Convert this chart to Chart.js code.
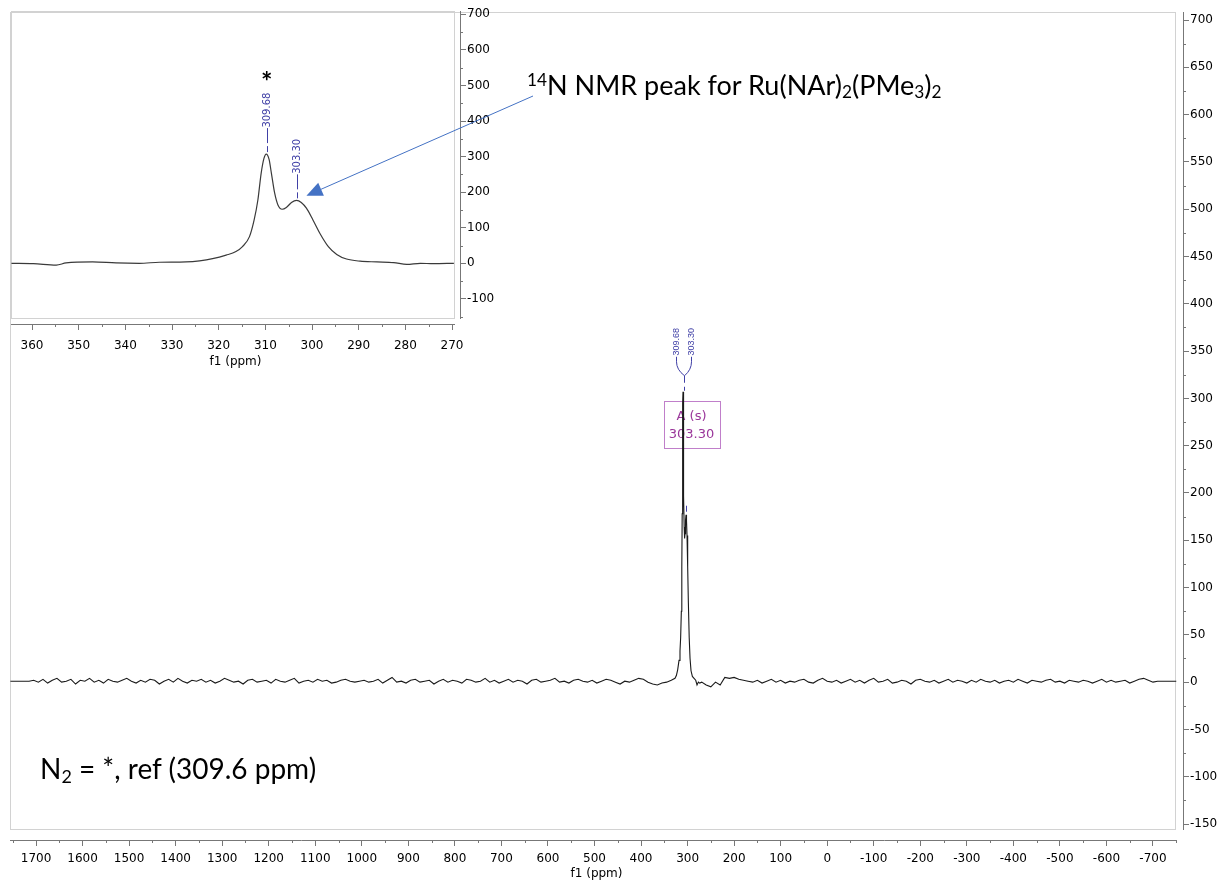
<!DOCTYPE html>
<html>
<head>
<meta charset="utf-8">
<script src="https://cdn.jsdelivr.net/npm/chart.js@4.4.0/dist/chart.umd.min.js"></script>
<style>
  html, body { margin: 0; padding: 0; background: #fff; }
  #wrap { position: relative; width: 1221px; height: 884px; overflow: hidden; }
  canvas { position: absolute; left: 0; top: 0; }
  .note { position: absolute; font-family: Lato, 'Open Sans', sans-serif; font-size: 27px; line-height: 30px; color: #000; white-space: nowrap; }
  .note sub, .note sup { font-size: 0.64em; line-height: 0; }
  .note sub { vertical-align: -0.2em; }
  .note sup { vertical-align: 0.5em; }
</style>
</head>
<body>
<div id="wrap">
  <canvas id="mainSpectrum" width="1221" height="884"></canvas>
  <canvas id="insetSpectrum" width="560" height="370"></canvas>
  <div class="note" style="left:527px; top:70px;"><sup>14</sup>N NMR peak for Ru(NAr)<sub>2</sub>(PMe<sub>3</sub>)<sub>2</sub></div>
  <div class="note" style="left:40px; top:753px; font-size:28px;">N<sub>2</sub> = *, ref (309.6 ppm)</div>
  <div class="note" style="left:261px; top:66px; font-weight:bold;">*</div>
</div>
<script>
// 14N spectrum around the two nitrogen signals (ppm, intensity)
const tracePpm = [364.4, 359.7, 354.8, 352.7, 347.0, 342.0, 337.0, 332.7, 327.0, 324.1,
                  321.3, 318.4, 316.3, 314.9, 313.4, 312.4, 311.6, 310.9, 310.3, 309.8,
                  309.2, 308.7, 308.0, 307.3, 306.4, 305.5, 304.4, 303.3, 302.3, 301.2,
                  299.8, 298.3, 296.5, 294.7, 292.6, 289.7, 286.1, 282.5, 279.7, 276.8,
                  274.0, 269.6];
const traceVal = [0, -1, -5, 1, 4, 1, 0, 3, 4, 7,
                  13, 23, 33, 47, 75, 122, 178, 253, 295, 307,
                  292, 253, 197, 164, 152, 157, 171, 177, 171, 155,
                  122, 84, 47, 25, 12, 6, 4, 2, -3, 0,
                  -1, 0];

// baseline of the full sweep, 10 ppm apart
const leftStart = 1755;
const leftBaseline = [
  1, 1, 1, 1, 1, 2, 0, 3, -1, 2,
  4, 0, 1, 3, -2, 2, 1, 4, 0, 2,
  -1, 3, 1, 0, 2, 4, 1, -1, 2, 0,
  3, 2, -2, 1, 3, 0, 4, 1, -1, 2,
  1, 3, 0, 2, -1, 1, 4, 2, 0, 1,
  -2, 2, 3, 0, 1, 2, -1, 3, 1, 0,
  2, 4, -1, 1, 2, 0, 3, 1, 2, -1,
  0, 2, 3, 1, 0, 1, 2, 0, 1, 3,
  -1, 2, 5, 0, 1, -1, 2, 3, 0, 1,
  2, -2, 1, 3, 0, 2, 1, -1, 3, 2,
  0, 1, 4, 0, 2, -1, 1, 3, 0, 2,
  1, -2, 2, 3, 0, 1, 2, 4, 0, 1,
  -1, 2, 3, 1, 0, 2, -1, 1, 3, 2,
  0, -2, 1, 0, 2, 4, 3, 0, -2, -3,
  -1, 0, 2
];
const rightStart = 260;
const rightBaseline = [
  -3, -5, 0, -3, 5, 4, 5, 3, 2, 1,
  0, 2, -1, 1, 3, 0, 2, -1, 1, 0,
  2, 3, 0, -1, 2, 4, 1, 0, 2, -1,
  1, 3, 0, 2, -1, 2, 4, 0, 1, 3,
  -1, 0, 2, 1, -2, 2, 3, 1, 0, 2,
  -1, 1, 3, 0, 2, 1, -1, 2, 0, 3,
  1, 0, 2, -1, 1, 2, 0, 3, 1, -1,
  2, 1, 0, 2, 3, 0, 1, -1, 2, 1,
  0, 2, 1, -1, 1, 3, 0, 2, 0, 1,
  2, -1, 1, 3, 4, 2, 0, 1, 1, 1,
  1, 1
];
const baseStep = 10;

// picked peaks
const peakShifts = [309.68, 303.30];
const multipletName = 'A (s)';
const multipletShift = '303.30';

const mainPoints = [];
leftBaseline.forEach((v, i) => mainPoints.push({ x: leftStart - i * baseStep, y: v }));
tracePpm.forEach((p, i) => { if (p < 330 && p > 265) mainPoints.push({ x: p, y: traceVal[i] }); });
rightBaseline.forEach((v, i) => mainPoints.push({ x: rightStart - i * baseStep, y: v }));

const insetPoints = tracePpm.map((p, i) => ({ x: p, y: traceVal[i] }));

Chart.defaults.font.family = "'DejaVu Sans', Tahoma, sans-serif";
Chart.defaults.font.size = 12;
Chart.defaults.color = '#000';

const axisGray = '#777';
const boxGray = '#d2d2d2';
const labelBlue = '#4040a6';

// plot box, detached axis lines and minor ticks
function framePlugin(gapRight, gapBottom, minorLen) {
  return {
    id: 'frame',
    beforeDatasetsDraw(chart) {
      const { ctx, chartArea: a, scales: { x, y } } = chart;
      const boxR = a.right - gapRight, boxB = a.bottom - gapBottom;
      ctx.save();
      ctx.strokeStyle = boxGray;
      ctx.lineWidth = 1;
      ctx.strokeRect(a.left + 0.5, a.top + 0.5, boxR - a.left, boxB - a.top);
      ctx.strokeStyle = axisGray;
      ctx.beginPath();
      ctx.moveTo(a.left, a.bottom + 0.5); ctx.lineTo(boxR + 1, a.bottom + 0.5);
      ctx.moveTo(a.right + 0.5, a.top); ctx.lineTo(a.right + 0.5, boxB + 1);
      const xs = x.options.ticks.stepSize, ys = y.options.ticks.stepSize;
      for (let v = Math.ceil(x.min / xs) * xs - xs / 2; v < x.max; v += xs) {
        if (v < x.min) continue;
        const px = Math.round(x.getPixelForValue(v)) + 0.5;
        ctx.moveTo(px, a.bottom); ctx.lineTo(px, a.bottom + minorLen);
      }
      for (let v = Math.ceil(y.min / ys) * ys - ys / 2; v < y.max; v += ys) {
        if (v < y.min) continue;
        const py = Math.round(y.getPixelForValue(v)) + 0.5;
        ctx.moveTo(a.right, py); ctx.lineTo(a.right + minorLen, py);
      }
      ctx.stroke();
      ctx.restore();
    }
  };
}

function vText(ctx, text, cx, cy) {
  ctx.save();
  ctx.translate(cx, cy);
  ctx.rotate(-Math.PI / 2);
  ctx.textAlign = 'center';
  ctx.textBaseline = 'middle';
  ctx.fillText(text, 0, 0);
  ctx.restore();
}

const plainNumber = v => String(v);

function axes(xMin, xMax, xStep, yMin, yMax, yStep, xHeight, yWidth, titlePad, tickPad) {
  return {
    x: {
      type: 'linear', reverse: true, min: xMin, max: xMax,
      afterFit: s => { s.height = xHeight; },
      border: { display: false },
      grid: { drawOnChartArea: false, tickLength: 6, tickColor: axisGray },
      ticks: { stepSize: xStep, includeBounds: false, autoSkip: false, maxRotation: 0, padding: tickPad, callback: plainNumber },
      title: { display: true, text: 'f1 (ppm)', padding: { top: 0, bottom: titlePad } }
    },
    y: {
      position: 'right', min: yMin, max: yMax,
      afterFit: s => { s.width = yWidth; },
      border: { display: false },
      grid: { drawOnChartArea: false, tickLength: 6, tickColor: axisGray },
      ticks: { stepSize: yStep, includeBounds: false, autoSkip: false, padding: 1, callback: plainNumber }
    }
  };
}

// main spectrum with multiplet box and peak labels
const mainAnnotations = {
  id: 'mainAnnotations',
  beforeDatasetsDraw(chart) {
    const { ctx, scales: { x, y } } = chart;
    const top = y.getPixelForValue(Math.max(...traceVal));
    const xb = x.getPixelForValue(peakShifts[1]);
    const cx = xb + 5.5, bw = 56, bh = 47, by = Math.round(top + 9);
    ctx.save();
    ctx.strokeStyle = '#c07fca';
    ctx.lineWidth = 1;
    ctx.strokeRect(Math.round(cx - bw / 2) + 0.5, by + 0.5, bw, bh);
    ctx.fillStyle = '#9a369a';
    ctx.font = "13px 'DejaVu Sans'";
    ctx.textAlign = 'center';
    ctx.textBaseline = 'middle';
    ctx.fillText(multipletName, cx, by + 16);
    ctx.fillText(multipletShift, cx, by + 34);
    ctx.restore();
  },
  afterDatasetsDraw(chart) {
    const { ctx, scales: { x, y } } = chart;
    const top = y.getPixelForValue(Math.max(...traceVal));
    const xa = x.getPixelForValue(peakShifts[0]);
    const xb = x.getPixelForValue(peakShifts[1]);
    const mid = Math.round((xa + xb) / 2) - 0.5;
    ctx.save();
    ctx.fillStyle = labelBlue;
    ctx.strokeStyle = labelBlue;
    ctx.lineWidth = 1;
    ctx.font = "9px 'Liberation Sans'";
    const la = mid - 8, lb = mid + 7;
    vText(ctx, peakShifts[0].toFixed(2), la, top - 50);
    vText(ctx, peakShifts[1].toFixed(2), lb, top - 50);
    ctx.beginPath();
    ctx.moveTo(la, top - 35); ctx.lineTo(la, top - 30);
    ctx.quadraticCurveTo(la, top - 22, mid, top - 16);
    ctx.moveTo(lb, top - 35); ctx.lineTo(lb, top - 30);
    ctx.quadraticCurveTo(lb, top - 22, mid, top - 16);
    ctx.moveTo(mid, top - 16); ctx.lineTo(mid, top - 9);
    ctx.moveTo(mid, top - 5); ctx.lineTo(mid, top - 1);
    const top2 = y.getPixelForValue(traceVal[tracePpm.indexOf(303.3)]);
    const xb2 = Math.round(xb) + 0.5;
    ctx.moveTo(xb2, top2 - 9); ctx.lineTo(xb2, top2 - 3);
    ctx.stroke();
    ctx.restore();
  }
};

new Chart(document.getElementById('mainSpectrum'), {
  type: 'line',
  data: {
    datasets: [{
      data: mainPoints,
      borderColor: '#1a1a1a',
      borderWidth: 1.1,
      pointRadius: 0,
      tension: 0
    }]
  },
  options: {
    responsive: false,
    animation: false,
    layout: { padding: { left: 10, top: 12, right: 0, bottom: 0 } },
    plugins: { legend: { display: false }, tooltip: { enabled: false } },
    scales: axes(-764.5, 1755.9, 100, -166.9, 708.5, 50, 44, 38, 3, 6)
  },
  plugins: [framePlugin(8, 11, 3), mainAnnotations]
});

// inset: peak labels and the pointer from the compound label
const insetAnnotations = {
  id: 'insetAnnotations',
  afterDatasetsDraw(chart) {
    const { ctx, scales: { x, y } } = chart;
    ctx.save();
    ctx.fillStyle = labelBlue;
    ctx.strokeStyle = labelBlue;
    ctx.lineWidth = 1;
    ctx.font = "10px 'DejaVu Sans'";
    peakShifts.forEach(s => {
      const i = tracePpm.reduce((b, p, k) => Math.abs(p - s) < Math.abs(tracePpm[b] - s) ? k : b, 0);
      const px = Math.round(x.getPixelForValue(s)) + 0.5;
      const top = y.getPixelForValue(traceVal[i]);
      vText(ctx, s.toFixed(2), px, top - 44);
      ctx.beginPath();
      ctx.moveTo(px, top - 26); ctx.lineTo(px, top - 11);
      ctx.moveTo(px, top - 8); ctx.lineTo(px, top - 2);
      ctx.stroke();
    });
    // arrow
    const from = [533, 96];
    const tip = [x.getPixelForValue(301.2), y.getPixelForValue(190)];
    const dx = tip[0] - from[0], dy = tip[1] - from[1];
    const len = Math.hypot(dx, dy), ux = dx / len, uy = dy / len;
    const hl = 16, hw = 7;
    const bx = tip[0] - ux * hl, byy = tip[1] - uy * hl;
    ctx.strokeStyle = '#4472c4';
    ctx.fillStyle = '#4472c4';
    ctx.beginPath();
    ctx.moveTo(from[0], from[1]); ctx.lineTo(bx, byy);
    ctx.stroke();
    ctx.beginPath();
    ctx.moveTo(tip[0], tip[1]);
    ctx.lineTo(bx - uy * hw, byy + ux * hw);
    ctx.lineTo(bx + uy * hw, byy - ux * hw);
    ctx.closePath();
    ctx.fill();
    ctx.restore();
  }
};

new Chart(document.getElementById('insetSpectrum'), {
  type: 'line',
  data: {
    datasets: [{
      data: insetPoints,
      borderColor: '#3a3a3a',
      borderWidth: 1.2,
      pointRadius: 0,
      cubicInterpolationMode: 'monotone'
    }]
  },
  options: {
    responsive: false,
    animation: false,
    layout: { padding: { left: 11, top: 11, right: 0, bottom: 0 } },
    plugins: { legend: { display: false }, tooltip: { enabled: false } },
    scales: axes(268.29, 364.5, 10, -170.6, 709.3, 100, 46, 100, 1, 9)
  },
  plugins: [framePlugin(6, 6, 3), insetAnnotations]
});
</script>
</body>
</html>
